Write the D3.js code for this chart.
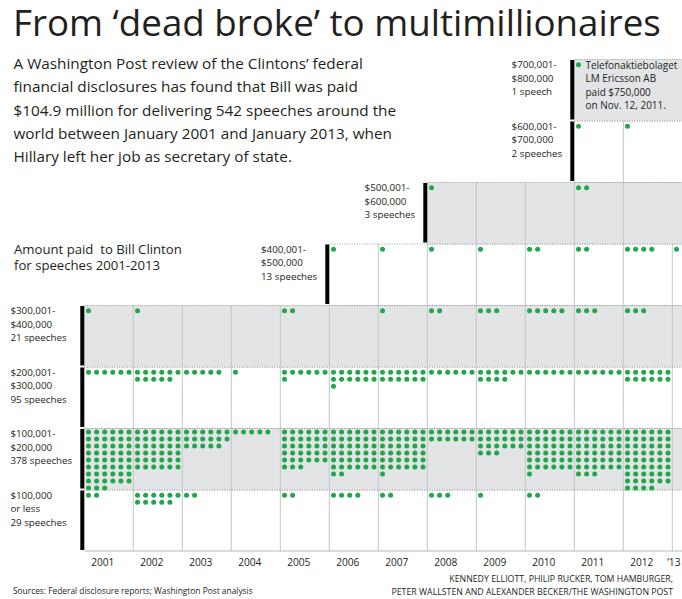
<!DOCTYPE html>
<html><head><meta charset="utf-8">
<script src="https://cdn.jsdelivr.net/npm/d3@7"></script>
<style>
body{margin:0;background:#fff}
svg{display:block}
text{font-family:"Open Sans",Lato,sans-serif;fill:#231f20}
</style>
</head><body>
<svg id="c" width="682" height="599"></svg>
<script>
// ---------- data ----------
const years = [2001,2002,2003,2004,2005,2006,2007,2008,2009,2010,2011,2012,2013];
const yearLabels = ["2001","2002","2003","2004","2005","2006","2007","2008","2009","2010","2011","2012","’13"];
// tiers from lowest to highest
const tierLabels = [
  ["$100,000","or less","29 speeches"],
  ["$100,001-","$200,000","378 speeches"],
  ["$200,001-","$300,000","95 speeches"],
  ["$300,001-","$400,000","21 speeches"],
  ["$400,001-","$500,000","13 speeches"],
  ["$500,001-","$600,000","3 speeches"],
  ["$600,001-","$700,000","2 speeches"],
  ["$700,001-","$800,000","1 speech"]
];
const tierStartYear = [2001,2001,2001,2001,2006,2008,2011,2011];
// speeches per year (2001..2013) in each tier
const speeches100kOrLess = [2,11,2,0,2,4,2,3,1,2,0,0,0];
const speeches100to200k  = [51,36,17,5,33,38,37,12,21,37,39,52,0];
const speeches200to300k  = [6,11,5,1,7,13,12,6,10,6,6,12,0];
const speeches300to400k  = [1,1,0,0,2,0,1,2,3,5,3,3,0];
const speeches400to500k  = [0,0,0,0,0,1,1,1,1,2,2,4,1];
const speeches500to600k  = [0,0,0,0,0,0,0,1,0,0,2,0,0];
const speeches600to700k  = [0,0,0,0,0,0,0,0,0,0,1,1,0];
const speeches700to800k  = [0,0,0,0,0,0,0,0,0,0,1,0,0];

const title = "From ‘dead broke’ to multimillionaires";
const intro = [
  "A Washington Post review of the Clintons’ federal",
  "financial disclosures has found that Bill was paid",
  "$104.9 million for delivering 542 speeches around the",
  "world between January 2001 and January 2013, when",
  "Hillary left her job as secretary of state."
];
const chartTitle = ["Amount paid  to Bill Clinton","for speeches 2001-2013"];
const note = ["Telefonaktiebolaget","LM Ericsson AB","paid $750,000","on Nov. 12, 2011."];
const source = "Sources: Federal disclosure reports; Washington Post analysis";
const credits = ["KENNEDY ELLIOTT, PHILIP RUCKER, TOM HAMBURGER,","PETER WALLSTEN AND ALEXANDER BECKER/THE WASHINGTON POST"];

// ---------- drawing ----------
const series = [speeches100kOrLess,speeches100to200k,speeches200to300k,speeches300to400k,
                speeches400to500k,speeches500to600k,speeches600to700k,speeches700to800k];
const W = 682;
const svg = d3.select('#c');
const GREEN = '#22a64d', GRAY = '#e3e4e5', GRID = '#c4c5c7', DOT = '#a2a4a7';

const x = d3.scaleBand().domain(years).range([84.3, 84.3 + 49*years.length]);
const tiers = d3.range(tierLabels.length);
const y = d3.scaleBand().domain(tiers).range([551, 59]);
const bw = y.bandwidth();

function fit(sel, target){
  let m = 0; sel.each(function(){ m = Math.max(m, this.getComputedTextLength()); });
  const fs = parseFloat(sel.attr('font-size'));
  sel.attr('font-size', fs*target/m);
  return fs*target/m;
}

const gBands = svg.append('g'), gGrid = svg.append('g'), gLines = svg.append('g'),
      gDots = svg.append('g'), gBars = svg.append('g'), gText = svg.append('g');

// bands
gBands.selectAll('rect').data(tiers.filter(t => t%2===1)).join('rect')
  .attr('x', t => x(tierStartYear[t])).attr('y', t => y(t))
  .attr('width', t => W - x(tierStartYear[t])).attr('height', bw).attr('fill', GRAY);

// gridlines
const grid = [];
tiers.forEach(t => {
  if (t === 7) return;
  years.forEach(yr => {
    if (yr <= tierStartYear[t]) return;
    if (yr === 2013 && t > 4) return;
    grid.push({t, yr});
  });
});
gGrid.selectAll('line').data(grid).join('line')
  .attr('x1', d => x(d.yr)).attr('x2', d => x(d.yr))
  .attr('y1', d => y(d.t)).attr('y2', d => y(d.t)+bw)
  .attr('stroke', GRID).attr('stroke-width', 1);

// dotted borders
const borders = [];
tiers.forEach(t => {
  borders.push({t, yy: y(t)});
  if (t > 0) borders.push({t, yy: y(t)+bw});
});
gLines.selectAll('line').data(borders).join('line')
  .attr('x1', d => x(tierStartYear[d.t])).attr('x2', W)
  .attr('y1', d => d.yy + 0.5).attr('y2', d => d.yy + 0.5)
  .attr('stroke', DOT).attr('stroke-width', 1).attr('stroke-dasharray', '1,1.5');
// baseline
gLines.append('line').attr('x1', x(2001)).attr('x2', W)
  .attr('y1', y(0)+bw).attr('y2', y(0)+bw).attr('stroke', '#b9babc').attr('stroke-width', 1.2);

// dots
const dots = [];
tiers.forEach(t => {
  const maxRows = Math.ceil(d3.max(series[t]) / 6);
  const off = Math.min(5.7, bw - 1.5 - (maxRows-1)*7);
  years.forEach((yr, j) => {
    for (let k = 0; k < series[t][j]; k++)
      dots.push({t, yr, col: k%6, row: Math.floor(k/6), off});
  });
});
gDots.selectAll('circle').data(dots).join('circle')
  .attr('cx', d => x(d.yr) + 4.2 + d.col*8.1)
  .attr('cy', d => y(d.t) + d.off + d.row*7)
  .attr('r', 2.5).attr('fill', GREEN);

// tier bars
gBars.selectAll('rect').data(tiers).join('rect')
  .attr('x', t => x(tierStartYear[t]) - 4).attr('y', t => y(t) + 1)
  .attr('width', 4).attr('height', bw - 2).attr('fill', '#000');

// tier labels
const tierG = gText.selectAll('g.tier').data(tiers).join('g').attr('class','tier');
const tierTexts = tierG.selectAll('text').data(t => tierLabels[t].map((s,i)=>({t,s,i}))).join('text')
  .attr('font-size', 12).text(d => d.s)
  .attr('y', d => y(d.t) + 9 + d.i*13.7);
const ref378 = tierTexts.filter(d => d.s === "378 speeches");
const lfs = fit(ref378, 62);
tierTexts.attr('font-size', lfs);
const groupW = {};
tierTexts.each(function(d){ const k = tierStartYear[d.t]; groupW[k] = Math.max(groupW[k]||0, this.getComputedTextLength()); });
tierTexts.attr('x', d => x(tierStartYear[d.t]) - 4 - 8 - groupW[tierStartYear[d.t]]);

// annotation
const noteX = x(2011) + 4.2 + 7, noteY = y(7) + 5.7 + 4.5;
const nt = gText.selectAll('text.note').data(note).join('text').attr('class','note')
  .attr('x', noteX).attr('y', (d,i) => noteY + i*13.2).attr('font-size', 12).text(d => d);
fit(nt, 92);

// year labels
const yl = gText.selectAll('text.yr').data(years).join('text').attr('class','yr')
  .attr('font-size', 14).text((d,i) => yearLabels[i])
  .attr('y', 565.5);
const yfs = fit(yl.filter(d => d === 2001), 23.3);
yl.attr('font-size', yfs)
  .attr('text-anchor', d => d === 2013 ? 'end' : 'middle')
  .attr('x', d => d === 2013 ? 680.5 : x(d) + 18.5);

// title
const tt = gText.append('text').attr('x', 13).attr('y', 36).attr('font-size', 30).text(title);
fit(tt, 648);

// intro
const it = gText.selectAll('text.intro').data(intro).join('text').attr('class','intro')
  .attr('x', 13.5).attr('y', (d,i) => 69 + i*23.3).attr('font-size', 17).text(d => d);
fit(it, 383);

// chart title
const ct = gText.selectAll('text.ct').data(chartTitle).join('text').attr('class','ct')
  .attr('x', 14).attr('y', (d,i) => 253.5 + i*16.3).attr('font-size', 15)
  .style('white-space','pre').text(d => d);
const cfs = fit(ct.filter((d,i) => i===0), 168);
ct.attr('font-size', cfs);

// source
const st = gText.append('text').attr('x', 13).attr('y', 594).attr('font-size', 10).text(source);
fit(st, 240);

// credits
const cr = gText.selectAll('text.cr').data(credits).join('text').attr('class','cr')
  .attr('x', 673).attr('y', (d,i) => 582 + i*13.3).attr('text-anchor','end')
  .attr('font-size', 10).text(d => d);
fit(cr, 282);
</script>
</body></html>
